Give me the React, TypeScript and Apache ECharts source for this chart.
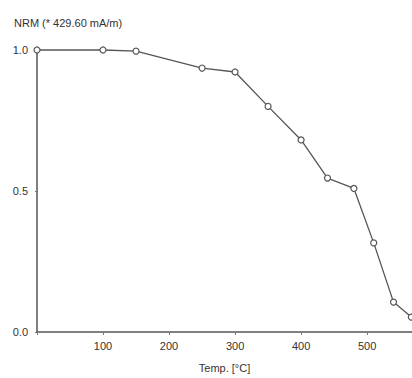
import React, { useEffect, useRef } from "react";
import * as echarts from "echarts";

const temps = [0, 100, 150, 250, 300, 350, 400, 440, 480, 510, 540, 567];
const nrm = [1.0, 1.0, 0.996, 0.936, 0.922, 0.8, 0.681, 0.546, 0.509, 0.316, 0.106, 0.053];
const yTicks = [0, 0.5, 1.0];
const titleText = "NRM (* 429.60 mA/m)";
const xName = "Temp. [°C]";

export default function App() {
  const ref = useRef<HTMLDivElement>(null);
  useEffect(() => {
    if (!ref.current) return;
    const chart = echarts.init(ref.current, null, { renderer: "svg" });
    const font = "'Liberation Sans', Arial, sans-serif";
    chart.setOption({
      animation: false,
      backgroundColor: "#ffffff",
      title: {
        text: titleText,
        left: 9,
        top: 12,
        textStyle: { fontSize: 11, fontWeight: "normal", color: "#333", fontFamily: font },
      },
      grid: { left: 37, top: 50, right: 0, bottom: 46, containLabel: false },
      xAxis: {
        type: "value",
        min: 0,
        max: 568,
        interval: 100,
        name: xName,
        nameLocation: "middle",
        nameGap: 30,
        nameTextStyle: { fontSize: 11, color: "#333", fontFamily: font },
        axisLine: { lineStyle: { color: "#555", width: 1.5 } },
        axisTick: { show: true, length: 3, lineStyle: { color: "#777" } },
        axisLabel: {
          fontSize: 11,
          color: "#333",
          fontFamily: font,
          margin: 8,
          showMaxLabel: false,
          formatter: (v: number) => (v === 0 || v % 100 !== 0 ? "" : String(v)),
        },
        splitLine: { show: false },
      },
      yAxis: {
        type: "value",
        min: 0,
        max: 1,
        interval: 0.5,
        axisLine: { show: true, lineStyle: { color: "#555", width: 1.5 } },
        axisTick: { show: true, length: 2, lineStyle: { color: "#777" } },
        axisLabel: {
          fontSize: 11,
          color: "#333",
          fontFamily: font,
          margin: 9,
          formatter: (v: number) => (yTicks.indexOf(v) >= 0 ? v.toFixed(1) : ""),
        },
        splitLine: { show: false },
      },
      series: [
        {
          type: "line",
          data: temps.map((t, i) => [t, nrm[i]]),
          symbol: "circle",
          symbolSize: 6,
          clip: false,
          lineStyle: { color: "#555", width: 1.3 },
          itemStyle: { color: "#ffffff", borderColor: "#555", borderWidth: 1.2 },
        },
      ],
    });
    return () => chart.dispose();
  }, []);
  return (
    <div
      ref={ref}
      style={{ position: "fixed", left: 0, top: 0, width: 412, height: 378, background: "#fff" }}
    />
  );
}
